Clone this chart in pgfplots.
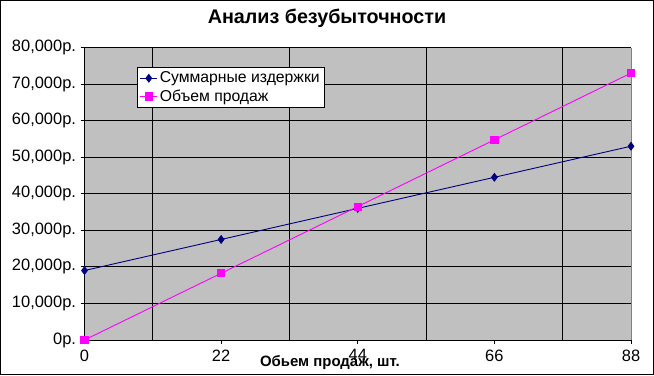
\documentclass[border=0pt]{standalone}
\usepackage{pgfplots}
\pgfplotsset{compat=1.18}
\usepackage{fontspec}
\setmainfont{Liberation Sans}
\definecolor{plotgray}{HTML}{C0C0C0}
\definecolor{navyc}{HTML}{000080}
\definecolor{magc}{HTML}{FF00FF}
\begin{document}
\begin{tikzpicture}[x=1bp,y=1bp]
\useasboundingbox (0,0) rectangle (654,375);
\draw[black,line width=1bp] (0.5,0.5) rectangle (653.5,374.5);
\begin{axis}[
  at={(84.5bp,35bp)}, anchor=south west,
  scale only axis, width=546.5bp, height=292.5bp,
  xmin=0, xmax=88, ymin=0, ymax=80000,
  scaled y ticks=false,
  axis x line*=bottom, axis y line*=left,
  axis line style={black, line width=0.8bp, -},
  axis background/.style={fill=plotgray},
  xtick={0,22,44,66,88},
  minor xtick={11,33,55,77},
  xminorgrids=true, xmajorgrids=false,
  ymajorgrids=true,
  grid style={black, line width=0.8bp},
  minor grid style={black, line width=0.8bp},
  minor tick length=0pt,
  ytick={0,10000,20000,30000,40000,50000,60000,70000,80000},
  yticklabels={{0р.},{10,000р.},{20,000р.},{30,000р.},{40,000р.},{50,000р.},{60,000р.},{70,000р.},{80,000р.}},
  xticklabels={0,22,44,66,88},
  tick align=outside, major tick length=4bp,
  tick style={black, line width=0.8bp},
  tick label style={font=\fontsize{16.5}{18}\selectfont},
  /pgf/number format/assume math mode=true,
  xticklabel style={yshift=-2bp},
  yticklabel style={xshift=-1bp},
  title={Анализ безубыточности},
  title style={font=\fontsize{19.8}{22}\selectfont\bfseries, at={(axis description cs:0.4437,1)}, anchor=center, yshift=23bp},
  xlabel={Обьем продаж, шт.},
  xlabel style={font=\fontsize{15}{17}\selectfont\bfseries, at={(axis description cs:0.449,0)}, anchor=center, yshift=-23bp},
  legend style={at={(axis description cs:0.096,0.933)}, anchor=north west, draw=black, fill=white, line width=0.8bp,
    font=\fontsize{15.8}{17}\selectfont, row sep=1.5bp, inner sep=2.5bp},
  legend cell align=left,
  clip=false,
]
\draw[gray, line width=0.8bp] (axis cs:88,0) -- (axis cs:88,80000);
\addplot[navyc, line width=0.9bp, mark=diamond*, mark size=3.8bp, mark options={fill=navyc, draw=navyc}]
  coordinates {(0,19000) (22,27500) (44,36000) (66,44500) (88,53000)};
\addlegendentry{Суммарные издержки}
\addplot[magc, line width=0.9bp, mark=square*, mark size=3.6bp, mark options={fill=magc, draw=magc}]
  coordinates {(0,0) (22,18250) (44,36500) (66,54750) (88,73000)};
\addlegendentry{Объем продаж}
\end{axis}
\end{tikzpicture}
\end{document}
